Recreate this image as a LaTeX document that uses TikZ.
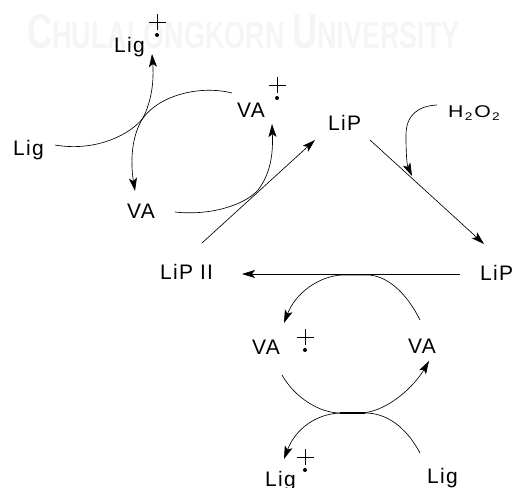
\documentclass[tikz,border=0pt]{standalone}
\usepackage{fontspec}
\setmainfont{Liberation Sans}
\newfontfamily\lbl[LetterSpace=6]{Liberation Sans}
\usetikzlibrary{arrows.meta}
\begin{document}
\begin{tikzpicture}[x=1pt,y=-1pt,
  lab/.style={anchor=base west,inner sep=0pt,font=\lbl\fontsize{21}{21}\selectfont},
  conn/.style={line width=0.65pt},
  arr/.style={conn,-{Stealth[length=13pt,width=8pt,inset=3pt]}},
  thickseg/.style={line width=1.8pt},
  radc/.pic={\draw[line width=0.8pt] (-8.5,0)--(8.5,0) (0,-8)--(0,8); \fill (0,13) circle (2);}]
\useasboundingbox (0,0) rectangle (523,488);
% watermark
\node[anchor=base west,inner sep=0pt,text=black!4,font=\bfseries] (wm) at (27,48)
  {\scalebox{0.71}[1]{\fontsize{49}{49}\selectfont C\fontsize{38}{38}\selectfont HULALONGKORN \fontsize{49}{49}\selectfont U\fontsize{38}{38}\selectfont NIVERSITY}};
% labels
\node[lab] (ligA) at (114,52) {Lig};
\node[lab] (ligB) at (13,155) {Lig};
\node[lab] (vaA) at (237,117) {VA};
\node[lab] (vaB) at (127,218) {VA};
\node[lab] (lip1) at (328,130) {LiP};
\node[lab] (lip2) at (480,280) {LiP};
\node[lab] (lip3) at (160,279) {LiP II};
\node[lab] (vaC) at (252,354) {VA};
\node[lab] (vaD) at (408,353) {VA};
\node[lab] (ligC) at (265,486) {Lig};
\node[lab] (ligD) at (427,483) {Lig};
\node[anchor=base west,inner sep=0pt,font=\fontsize{17}{17}\selectfont] (h2o2) at (448,117)
  {\scalebox{1.25}[1]{H\kern1pt\raisebox{-3.5pt}{\fontsize{11}{11}\selectfont 2}\kern1.5pt O\kern1pt\raisebox{-3.5pt}{\fontsize{11}{11}\selectfont 2}}};
% radical cation marks
\pic at (157,22) {radc};
\pic at (277,85) {radc};
\pic at (305,337) {radc};
\pic at (305,457) {radc};
% coordinates
\coordinate (cx) at (143,118);
% top-left cycle
\draw[arr] (55,145) .. controls (95,152) and (130,135) .. (cx) .. controls (152,100) and (154,80) .. (152,54);
\draw[arr] (232,93) .. controls (200,85) and (160,95) .. (cx) .. controls (132,135) and (130,160) .. (135,191);
\draw[arr] (175,212) .. controls (210,216) and (245,205) .. (258,190) .. controls (272,172) and (273,150) .. (272,124);
% triangle
\draw[arr] (202,243) -- (315,140);
\draw[arr] (370,140) -- (484,244);
\draw[arr] (437,105) .. controls (418,106) and (406,115) .. (406,135) .. controls (406,155) and (407,165) .. (412,176);
\draw[arr] (460,274) -- (242,274);
% bottom cycle
\draw[arr] (420,320) .. controls (405,290) and (385,275) .. (367,275) -- (342,275) .. controls (320,276) and (296,292) .. (284,323);
\draw[thickseg] (342,274.5) -- (367,274.5);
\draw[arr] (282,375) .. controls (295,398) and (320,413) .. (340,413) -- (363,413) .. controls (390,410) and (415,385) .. (429,361);
\draw[conn] (420,453) .. controls (405,425) and (385,413) .. (365,413) -- (340,413);
\draw[arr] (340,413) .. controls (315,414) and (295,430) .. (284,459);
\draw[thickseg] (340,413) -- (365,413);
\end{tikzpicture}
\end{document}
